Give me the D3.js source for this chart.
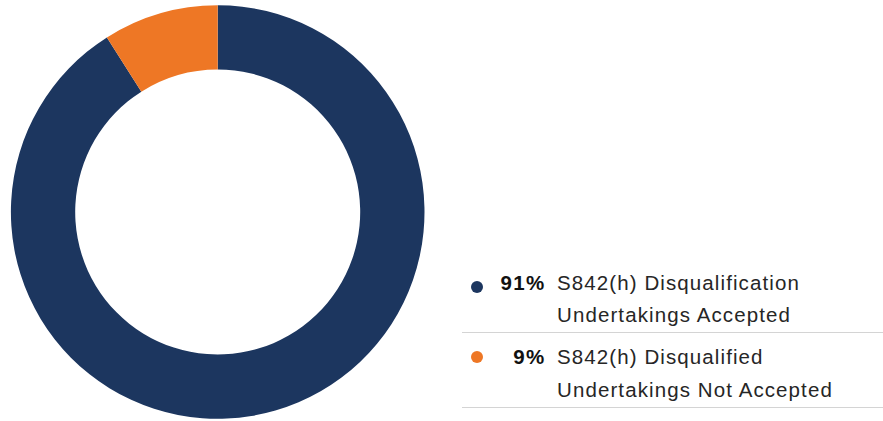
<!DOCTYPE html>
<html>
<head>
<meta charset="utf-8">
<script src="https://cdn.jsdelivr.net/npm/d3@7"></script>
<style>
  html, body { margin: 0; padding: 0; background: #fff; }
  svg { display: block; }
</style>
</head>
<body>
<svg id="chart" width="883" height="421"></svg>
<script>
// Share of S842(h) disqualification undertakings
const categories = ["Accepted", "Not Accepted"];
const values = [91, 9];
const percentLabels = ["91%", "9%"];
const labelLines = [
  ["S842(h) Disqualification", "Undertakings Accepted"],
  ["S842(h) Disqualified", "Undertakings Not Accepted"]
];
const colors = ["#1c365f", "#ee7725"];

const svg = d3.select("#chart");

const cx = 217.7, cy = 212, outerR = 206.8, innerR = 142.5;

const pie = d3.pie().sort(null).value(d => d.value);
const arc = d3.arc().innerRadius(innerR).outerRadius(outerR);

const data = categories.map((c, i) => ({ name: c, value: values[i], color: colors[i] }));

svg.append("g")
  .attr("transform", `translate(${cx},${cy})`)
  .selectAll("path")
  .data(pie(data))
  .join("path")
  .attr("d", arc)
  .attr("fill", d => d.data.color);

// Legend
const legend = svg.append("g");
const rowY = [289.5, 364];
const dotY = [287, 357];
const lineGap = 32.5;
const fontFam = "'Liberation Sans', Arial, Helvetica, sans-serif";

data.forEach((d, i) => {
  const y = rowY[i];
  legend.append("circle")
    .attr("cx", 477).attr("cy", dotY[i])
    .attr("r", 6)
    .attr("fill", d.color);
  legend.append("text")
    .attr("x", 545.5).attr("y", y)
    .attr("text-anchor", "end")
    .attr("font-family", fontFam)
    .attr("font-weight", "bold")
    .attr("font-size", 20.5)
    .attr("letter-spacing", 1.3)
    .attr("fill", "#111")
    .text(percentLabels[i]);
  labelLines[i].forEach((t, j) => {
    legend.append("text")
      .attr("x", 557).attr("y", y + j * lineGap)
      .attr("font-family", fontFam)
      .attr("font-size", 20.5)
      .attr("letter-spacing", 1.1)
      .attr("fill", "#262626")
      .text(t);
  });
  legend.append("line")
    .attr("x1", 462).attr("x2", 883)
    .attr("y1", y + 43.5 - (i === 0 ? 0.5 : 0)).attr("y2", y + 43.5 - (i === 0 ? 0.5 : 0))
    .attr("stroke", "#d4d4d4")
    .attr("stroke-width", 1);
});
</script>
</body>
</html>
